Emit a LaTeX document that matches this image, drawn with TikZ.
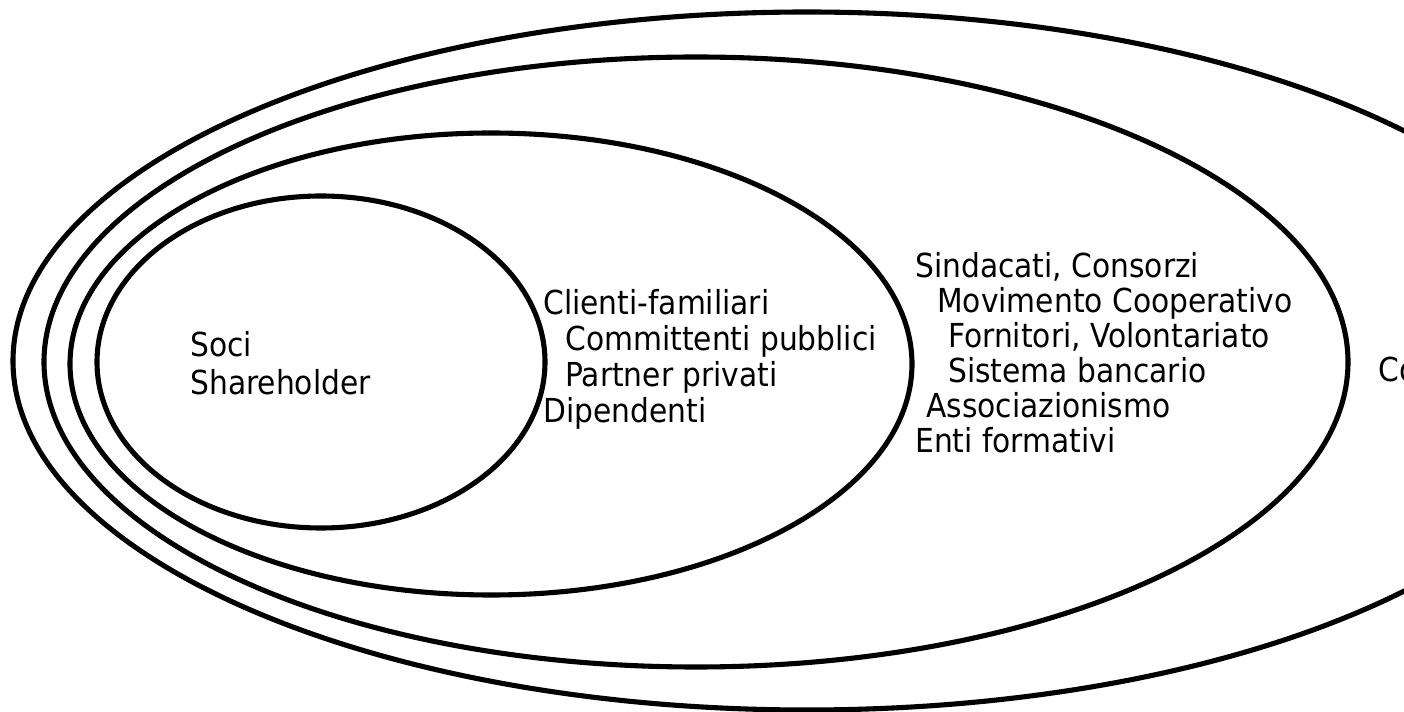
\documentclass[tikz,border=0pt]{standalone}
\usepackage{fontspec}
\setmainfont{DejaVu Sans Condensed}

\begin{document}
\begin{tikzpicture}[x=0.02cm, y=-0.02cm]
    % Define display style
    \tikzstyle{ring}=[draw, line width=2.9pt]
    \tikzstyle{stake}=[anchor=base west, inner sep=0pt, font=\fontsize{18.8}{22}\selectfont]

    % Define centres and radii of the rings
    \newcommand\SociX{321}
    \newcommand\SociY{362}
    \newcommand\SociW{224}
    \newcommand\SociH{166}

    \newcommand\ClientiX{491}
    \newcommand\ClientiY{364}
    \newcommand\ClientiW{421}
    \newcommand\ClientiH{231}

    \newcommand\ReteX{696}
    \newcommand\ReteY{362}
    \newcommand\ReteW{652}
    \newcommand\ReteH{305}

    \newcommand\ContestoX{807}
    \newcommand\ContestoY{361}
    \newcommand\ContestoW{794}
    \newcommand\ContestoH{349}

    % Fix the page and cut what runs over the right edge
    \useasboundingbox (0, 0) rectangle (1404, 712);
    \clip (0, 0) rectangle (1404, 712);

    % Draw the rings
    \draw[ring] (\SociX, \SociY) ellipse [x radius=\SociW, y radius=\SociH];
    \draw[ring] (\ClientiX, \ClientiY) ellipse [x radius=\ClientiW, y radius=\ClientiH];
    \draw[ring] (\ReteX, \ReteY) ellipse [x radius=\ReteW, y radius=\ReteH];
    \draw[ring] (\ContestoX, \ContestoY) ellipse [x radius=\ContestoW, y radius=\ContestoH];

    % Draw the labels of the inner ring
    \node[stake] (soci) at (190, 357) {Soci};
    \node[stake] (shareholder) at (190, 395) {Shareholder};

    % Draw the labels of the second ring
    \foreach \dx/\txt [count=\i] in {0/Clienti-familiari, 22/Committenti pubblici, 22/Partner privati, 0/Dipendenti}
        \node[stake] (clienti\i) at ({543+\dx}, {279+36*\i}) {\txt};

    % Draw the labels of the third ring
    \foreach \dx/\txt [count=\i] in {0/{Sindacati, Consorzi}, 22/Movimento Cooperativo, 33/{Fornitori, Volontariato}, 33/Sistema bancario, 11/Associazionismo, 0/Enti formativi}
        \node[stake] (rete\i) at ({915+\dx}, {243+35*\i}) {\txt};

    % Draw the label of the outer ring
    \node[stake] (contesto) at (1378, 382) {Co};
\end{tikzpicture}
\end{document}
